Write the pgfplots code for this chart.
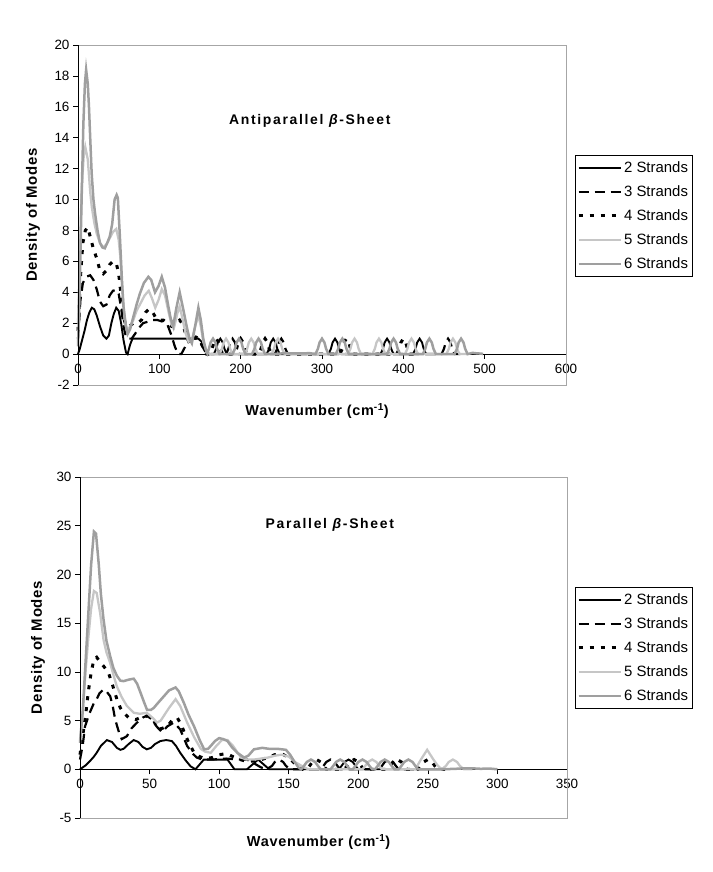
\documentclass[border=0pt]{standalone}
\usepackage{pgfplots}
\pgfplotsset{compat=1.18}
\usepackage{fontspec}
\setmainfont{Liberation Sans}
\newfontfamily\lblfont[LetterSpace=5]{Liberation Sans}
\newfontfamily\ttlfont[LetterSpace=12]{Liberation Sans}

\pgfplotsset{
  s2/.style={black, line width=1.9bp},
  s3/.style={black, line width=2.2bp, dash pattern=on 10bp off 6bp},
  s4/.style={black, line width=3bp, dash pattern=on 4bp off 7bp},
  s5/.style={gray!45, line width=2.3bp},
  s6/.style={gray!75, line width=2.5bp},
  myaxis/.style={
    scale only axis, anchor=south west,
    axis x line=middle, axis y line=left,
    axis line style={-, black, line width=0.8bp},
    tick align=outside, tick style={black, line width=0.7bp},
    major tick length=5bp,
    hide obscured x ticks=false, hide obscured y ticks=false,
    /pgf/number format/assume math mode=true,
    tick label style={font=\fontsize{13.5}{15}\selectfont},
    x tick label style={yshift=-1bp},
    legend cell align=left,
    legend image code/.code={\draw[##1] (0bp,0bp) -- (42bp,0bp);},
    legend style={draw=black, line width=0.6bp, font=\fontsize{15}{17}\selectfont,
      anchor=north west, row sep=7.8bp, inner xsep=2bp, inner ysep=4bp,
      cells={anchor=west}},
    clip=false,
  }
}

\begin{document}
\begin{tikzpicture}
\path[use as bounding box] (0,0) rectangle (713bp,-872bp);

% ---------------- Antiparallel ----------------
\begin{axis}[myaxis, name=top,
  at={(78bp,-385bp)}, width=488bp, height=340bp,
  xmin=0, xmax=600, ymin=-2, ymax=20,
  xtick={0,100,...,600}, ytick={-2,0,...,20},
  xlabel={\lblfont\bfseries Wavenumber (cm\textsuperscript{-1})},
  ylabel={\lblfont\bfseries Density of Modes},
  xlabel style={at={(axis description cs:0.49,-0.076)}, anchor=center, font=\fontsize{14.5}{16}\selectfont},
  ylabel style={at={(axis description cs:-0.092,0.5)}, anchor=center, font=\fontsize{15}{16}\selectfont},
  legend style={at={(axis description cs:1.018,0.676)}},
]
\addplot[s2] coordinates {(0,0) (2,0.3) (5,0.9) (8,1.5) (11,2.2) (14,2.7) (17,3.0) (20,2.9) (23,2.5) (27,1.8) (31,1.2) (35,1.0) (38,1.2) (41,2.0) (44,2.6) (47,3.0) (50,2.8) (53,2.0) (56,0.9) (59,0.1) (61,0) (64,0.6) (67,1.0) (90,1.0) (120,1.0) (148,1.0) (152,0.8) (156,0.3) (160,0)
(167,0) (170,0.35) (172,0.75) (175,1) (178,0.75) (180,0.35) (183,0)
(232,0) (235,0.35) (237,0.75) (240,1) (243,0.75) (245,0.35) (248,0)
(308,0) (311,0.35) (313,0.75) (316,1) (319,0.75) (321,0.35) (324,0)
(372,0) (375,0.35) (377,0.75) (380,1) (383,0.75) (385,0.35) (388,0)
(412,0) (415,0.35) (417,0.75) (420,1) (423,0.75) (425,0.35) (428,0) (440,0)};
\addlegendentry{2 Strands}
\addplot[s3] coordinates {(0,1.0) (3,3.5) (6,4.6) (10,5.0) (15,5.1) (19,4.8) (23,4.2) (27,3.4) (31,3.1) (35,3.2) (39,3.8) (43,4.1) (47,4.15) (50,3.9) (53,3.0) (56,1.8) (59,1.1) (62,1.0) (66,1.0) (70,1.3) (75,1.7) (80,2.0) (86,2.1) (92,2.2) (98,2.2) (104,2.1) (110,1.9) (115,1.2) (119,0.5) (123,0) (127,0) (131,0.4) (136,0.9) (141,1.0) (146,1.0) (151,0.7) (156,0.2) (160,0)
(182,0) (185,0.35) (187,0.75) (190,1) (193,0.75) (195,0.35) (198,0)
(242,0) (245,0.35) (247,0.75) (250,1) (253,0.75) (255,0.35) (258,0)
(447,0) (450,0.35) (452,0.75) (455,1) (458,0.75) (460,0.35) (463,0) (470,0)};
\addlegendentry{3 Strands}
\addplot[s4] coordinates {(0,1.5) (3,5.0) (6,7.2) (9,8.0) (12,8.2) (15,7.6) (19,6.8) (23,6.2) (27,5.4) (31,5.2) (35,5.4) (39,5.8) (43,6.0) (47,5.9) (50,5.2) (53,3.8) (56,2.4) (59,1.8) (63,1.8) (68,2.0) (73,2.0) (78,2.2) (83,2.7) (87,2.9) (91,2.8) (95,2.4) (100,2.2) (105,2.2) (110,2.0) (115,1.8) (120,2.0) (125,2.2) (129,1.9) (133,1.2) (137,0.7) (141,0.9) (145,1.1) (149,1.0) (154,0.4) (158,0)
(162,0) (165,0.35) (167,0.75) (170,1) (173,0.75) (175,0.35) (178,0)
(192,0) (195,0.35) (197,0.75) (200,1) (203,0.75) (205,0.35) (208,0)
(222,0) (225,0.35) (227,0.75) (230,1) (233,0.75) (235,0.35) (238,0)
(322,0) (325,0.35) (327,0.75) (330,1) (333,0.75) (335,0.35) (338,0)
(392,0) (395,0.35) (397,0.75) (400,1) (403,0.75) (405,0.35) (408,0) (420,0)};
\addlegendentry{4 Strands}
\addplot[s5] coordinates {(0,2) (2,6) (4.5,10.6) (7,12.8) (9,13.4) (12,12.6) (15,10.5) (17,9.5) (20,8.5) (23,7.8) (27,7.2) (31,6.9) (35,7.1) (39,7.5) (43,7.9) (47,8.1) (50,7.4) (52,6.3) (55,3.8) (58,2.0) (61,1.5) (64,1.8) (68,2.2) (72,2.8) (77,3.3) (82,3.8) (87,4.1) (91,3.6) (95,3.0) (99,3.5) (103,4.2) (107,3.8) (111,2.8) (115,1.9) (118,1.7) (122,2.6) (125,3.1) (128,2.4) (132,1.4) (136,0.8) (140,0.9) (144,1.8) (148,2.5) (151,1.8) (154,0.8) (158,0.2) (162,0)
(174,0) (177,0.35) (179,0.75) (182,1) (185,0.75) (187,0.35) (190,0)
(205,0) (208,0.35) (210,0.75) (213,1) (216,0.75) (218,0.35) (221,0)
(238,0) (241,0.35) (243,0.75) (246,1) (249,0.75) (251,0.35) (254,0)
(332,0) (335,0.35) (337,0.75) (340,1) (343,0.75) (345,0.35) (348,0)
(362,0) (365,0.35) (367,0.75) (370,1) (373,0.75) (375,0.35) (378,0)
(402,0) (405,0.35) (407,0.75) (410,1) (413,0.75) (415,0.35) (418,0)
(453,0) (456,0.35) (458,0.75) (461,1) (464,0.75) (466,0.35) (469,0) (480,0)};
\addlegendentry{5 Strands}
\addplot[s6] coordinates {(0,0.5) (2,4) (4,9) (6.6,14.9) (8.5,17.5) (10,18.4) (12,17.5) (13.5,16) (15,14) (16.8,11.7) (19,10) (21,9.1) (24,8.0) (27,7.2) (30,6.9) (33,6.85) (36,7.2) (39,7.6) (42,8.4) (45,10.0) (47.5,10.3) (49,10.1) (51.6,7.5) (54,4.8) (56,3.0) (59,1.8) (61,1.3) (64,1.6) (68,2.4) (72,3.2) (76,3.9) (81,4.6) (86.5,5.0) (90,4.8) (94.7,4.0) (99,4.4) (103,5.0) (107,4.3) (111,3.1) (114,2.3) (117,1.8) (121,3.0) (125,4.0) (129,3.0) (133.6,1.8) (137,1.0) (140,0.7) (144,1.8) (148,3.0) (151,2.2) (154,1.0) (157,0.3) (159,0.05)
(161,0.35) (163,0.75) (166,1) (169,0.75) (171,0.35) (174,0)
(190,0) (193,0.35) (195,0.75) (198,1) (201,0.75) (203,0.35) (206,0)
(214,0) (217,0.35) (219,0.75) (222,1) (225,0.75) (227,0.35) (230,0)
(240,0) (255,0.06) (270,0.04) (285,0.06) (292,0)
(295,0.35) (297,0.75) (300,1) (303,0.75) (305,0.35) (308,0)
(317,0) (320,0.35) (322,0.75) (325,1) (328,0.75) (330,0.35) (333,0)
(380,0) (383,0.35) (385,0.75) (388,1) (391,0.75) (393,0.35) (396,0)
(424,0) (427,0.35) (429,0.75) (432,1) (435,0.75) (437,0.35) (440,0)
(463,0) (466,0.35) (468,0.75) (471,1) (474,0.75) (476,0.35) (479,0)
(485,0.08) (490,0.05) (496,0.03) (498,0)};
\addlegendentry{6 Strands}
\node[font=\fontsize{14}{16}\selectfont] at (axis description cs:0.475,0.776) {\ttlfont\bfseries Antiparallel \textit{β}-Sheet};
\end{axis}
\draw[gray!70, line width=0.8bp] (top.south west) rectangle (top.north east);
\draw[black, line width=0.8bp] (top.south west) -- (top.north west);

% ---------------- Parallel ----------------
\begin{axis}[myaxis, name=bot,
  at={(80bp,-818bp)}, width=487bp, height=341bp,
  xmin=0, xmax=350, ymin=-5, ymax=30,
  xtick={0,50,...,350}, ytick={-5,0,...,30},
  xlabel={\lblfont\bfseries Wavenumber (cm\textsuperscript{-1})},
  ylabel={\lblfont\bfseries Density of Modes},
  xlabel style={at={(axis description cs:0.49,-0.070)}, anchor=center, font=\fontsize{14.5}{16}\selectfont},
  ylabel style={at={(axis description cs:-0.086,0.5)}, anchor=center, font=\fontsize{15}{16}\selectfont},
  legend style={at={(axis description cs:1.016,0.677)}},
]
\addplot[s2] coordinates {(0,0) (4,0.4) (7.2,0.85) (10,1.3) (12,1.7) (15,2.4) (19.3,3.0) (23,2.8) (26.5,2.2) (29,2.0) (31.3,2.1) (35,2.6) (38.6,3.0) (42,2.8) (45,2.3) (48,2.05) (51,2.2) (54,2.6) (57.8,2.9) (62,3.0) (66,2.9) (69,2.4) (72,1.7) (76,0.9) (79.5,0.3) (83,0) (86,0.5) (89,1.0) (100,1.0) (106,1.0) (109,0.4) (111,0) (120,0) (124,0.5) (128,1.0) (132,0.5) (136,0) (186,0) (188,0.35) (190,0.75) (193,1) (196,0.75) (198,0.35) (200,0) (260,0)};
\addlegendentry{2 Strands}
\addplot[s3] coordinates {(0,1.0) (2,2.5) (3.6,4.4) (7,5.8) (10,6.8) (12,7.2) (14,7.8) (16.9,8.2) (19,8.0) (21.7,7.5) (23.5,6.5) (25.3,5.1) (28,3.8) (30,3.1) (33.7,3.4) (37,4.2) (41,4.8) (45,5.3) (48,5.5) (52,5.1) (55,4.4) (59,3.8) (62.7,4.4) (67.5,4.8) (72,4.1) (77,2.4) (81,1.6) (84,1.2) (88,1.0) (95,1.0) (105,1.1) (115,1.0) (120,1.0) (124,0.7) (130,0.2) (134,0) (138,0.35) (140,0.75) (143,1.0) (146,0.75) (148,0.35) (151,0) (173,0) (175,0.35) (177,0.75) (180,1) (183,0.75) (185,0.35) (187,0) (215,0) (217,0.35) (219,0.75) (222,1) (225,0.75) (227,0.35) (229,0) (240,0)};
\addlegendentry{3 Strands}
\addplot[s4] coordinates {(0,1.5) (2,3.5) (4,5.5) (6,8.0) (8,9.9) (10,11.3) (12,11.5) (14.5,11.0) (16.9,10.6) (20.5,9.9) (23.5,8.6) (26.5,7.2) (29,6.3) (31.3,5.8) (35,5.3) (40,5.1) (43.4,5.3) (49.4,5.5) (53,5.0) (56,4.1) (59,4.2) (62.7,4.4) (66,5.0) (69.9,5.3) (73,4.5) (76,3.4) (79,2.5) (82,1.7) (86,1.3) (90,1.1) (95,1.2) (100,1.5) (105,1.6) (110,1.3) (115,1.0) (120,0.8) (128,0.9) (135,1.2) (140,1.5) (145,1.6) (150,1.2) (155,0.5) (160,0) (163,0) (165,0.35) (167,0.75) (170,1) (173,0.75) (175,0.35) (177,0) (190,0) (192,0.35) (194,0.75) (197,1) (200,0.75) (202,0.35) (204,0) (221,0) (223,0.35) (225,0.75) (228,1) (231,0.75) (233,0.35) (235,0) (243,0) (245,0.35) (247,0.75) (250,1) (253,0.75) (255,0.35) (257,0) (265,0)};
\addlegendentry{4 Strands}
\addplot[s5] coordinates {(0,3) (2,6) (4,10) (6,13.5) (8,16.5) (10,18.3) (12,18.1) (14.5,16) (16.9,13.3) (19,12) (21.7,10.9) (24,9.7) (26.5,8.5) (30,7.4) (33.7,6.5) (38.6,5.8) (43,5.7) (48,5.8) (52,5.3) (55.4,4.8) (58,5.0) (60.3,5.5) (64,6.3) (68.7,7.2) (72,6.5) (77,4.8) (82,3.3) (86.8,2.1) (90,1.8) (94,1.7) (98,2.4) (102,3.0) (106,3.0) (110,2.4) (115.7,1.2) (120,1.0) (125,1.0) (130,1.1) (135,1.2) (140,1.4) (145,1.5) (150,1.3) (155,0.7) (160,0.3) (164,0) (203,0) (205,0.35) (207,0.75) (210,1) (213,0.75) (215,0.35) (217,0) (241,0) (245,1.0) (249.5,2.0) (254,1.0) (257,0.4) (260,0) (263,0.35) (265,0.75) (268,1.0) (271,0.75) (273,0.35) (276,0) (282,0)};
\addlegendentry{5 Strands}
\addplot[s6] coordinates {(0,2.7) (2,6) (4,11) (6,16) (8,21) (10,24.4) (11.5,24.2) (13.5,21) (15,18) (16.9,15.4) (19,13.2) (21.7,11.6) (24,10.4) (26.5,9.6) (29,9.1) (31.3,9.05) (35,9.2) (38.6,9.3) (41,8.8) (43.4,7.9) (46,6.9) (48.2,6.1) (51,6.1) (53,6.3) (56,6.8) (60.3,7.5) (64,8.1) (68.7,8.4) (71,8.0) (74.7,6.8) (78,5.6) (82,4.4) (86,3.0) (89.2,2.05) (92,2.1) (94,2.4) (97,2.9) (100,3.2) (103,3.1) (106,2.9) (109,2.3) (113,1.7) (118,1.2) (121,1.4) (125,2.05) (131,2.2) (136,2.1) (142,2.1) (148,2.0) (151,1.5) (154,0.8) (157,0.2) (159,0) (161,0.35) (163,0.75) (166,1) (169,0.75) (171,0.35) (173,0) (180,0) (182,0.35) (184,0.75) (187,1) (190,0.75) (192,0.35) (194,0) (196,0) (198,0.35) (200,0.75) (203,1) (206,0.75) (208,0.35) (210,0) (212,0) (214,0.35) (216,0.75) (219,1) (222,0.75) (224,0.35) (226,0) (229,0) (231,0.35) (233,0.75) (236,1) (239,0.75) (241,0.35) (243,0) (260,0) (270,0.05) (276,0.1) (282,0.1) (288,0.05) (294,0.08) (300,0)};
\addlegendentry{6 Strands}
\node[font=\fontsize{14}{16}\selectfont] at (axis description cs:0.513,0.859) {\ttlfont\bfseries Parallel \textit{β}-Sheet};
\end{axis}
\draw[gray!70, line width=0.8bp] (bot.south west) rectangle (bot.north east);
\draw[black, line width=0.8bp] (bot.south west) -- (bot.north west);
\end{tikzpicture}
\end{document}
